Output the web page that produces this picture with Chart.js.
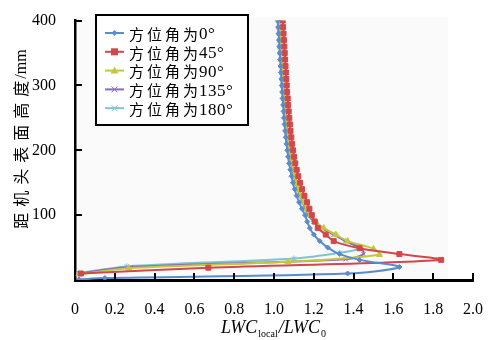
<html>
<head>
  <meta charset="utf-8">
  <title>LWC profile</title>
  <script src="https://cdn.jsdelivr.net/npm/chart.js@4.4.1/dist/chart.umd.min.js"></script>
  <style>
    body { margin: 0; background: #fff; }
  </style>
</head>
<body>
  <canvas id="chart" width="495" height="340"></canvas>

  <script>
    // heights above surface (mm) shared by the upper part of every curve
    const heightsUp = [100, 110, 120, 130, 140, 150, 160, 170, 180, 190, 200, 210, 220, 230, 240, 250,
      260, 270, 280, 290, 300, 310, 320, 330, 340, 350, 360, 370, 380, 390, 400];

    const xTicks = [0, 0.2, 0.4, 0.6, 0.8, 1.0, 1.2, 1.4, 1.6, 1.8, 2.0];
    const yTicks = [0, 100, 200, 300, 400];
    const labels = ['方位角为0°', '方位角为45°', '方位角为90°', '方位角为135°', '方位角为180°'];

    // 0 deg
    const blueLowH = [1, 3, 10, 20, 31, 40, 50, 60, 70, 80, 90];
    const blueLowX = [0.02, 0.15, 1.37, 1.63, 1.43, 1.33, 1.27, 1.23, 1.20, 1.18, 1.167];
    const blueUpX = [1.156, 1.140, 1.126, 1.114, 1.104, 1.095, 1.088, 1.082, 1.076, 1.071, 1.067, 1.063, 1.059, 1.056, 1.053, 1.050,
      1.048, 1.046, 1.043, 1.041, 1.039, 1.037, 1.035, 1.033, 1.031, 1.029, 1.027, 1.025, 1.023, 1.021, 1.019];

    // 45 deg
    const redLowH = [10, 19, 31, 40, 49, 60, 70, 80, 90];
    const redLowX = [0.03, 0.67, 1.84, 1.63, 1.43, 1.30, 1.26, 1.22, 1.205];
    const redUpX = [1.190, 1.178, 1.166, 1.153, 1.141, 1.131, 1.122, 1.114, 1.107, 1.101, 1.096, 1.091, 1.087, 1.083, 1.080, 1.077,
      1.074, 1.071, 1.069, 1.066, 1.064, 1.062, 1.060, 1.058, 1.056, 1.054, 1.052, 1.050, 1.048, 1.046, 1.044];

    // 90 deg
    const yellowLowH = [9, 18, 28, 39, 48, 60, 70, 80, 90];
    const yellowLowX = [0.02, 0.27, 1.07, 1.53, 1.50, 1.37, 1.31, 1.25, 1.21];
    const yellowUpX = [1.180, 1.163, 1.148, 1.134, 1.122, 1.112, 1.103, 1.096, 1.089, 1.084, 1.079, 1.074, 1.070, 1.066, 1.063, 1.060,
      1.057, 1.054, 1.051, 1.049, 1.046, 1.044, 1.041, 1.039, 1.037, 1.035, 1.033, 1.031, 1.029, 1.027, 1.025];

    // 135 deg
    const purpleLowH = [10, 20, 32, 40, 48, 60, 70, 80, 90];
    const purpleLowX = [0.02, 0.28, 1.36, 1.45, 1.44, 1.36, 1.30, 1.24, 1.20];
    const purpleUpX = [1.176, 1.160, 1.146, 1.132, 1.120, 1.110, 1.101, 1.094, 1.088, 1.082, 1.077, 1.073, 1.069, 1.065, 1.062, 1.059,
      1.056, 1.053, 1.050, 1.048, 1.045, 1.043, 1.040, 1.038, 1.036, 1.034, 1.032, 1.030, 1.028, 1.026, 1.024];

    // 180 deg
    const cyanLowH = [11, 21, 33, 42, 49, 60, 70, 80, 90];
    const cyanLowX = [0.02, 0.26, 1.10, 1.33, 1.43, 1.36, 1.31, 1.24, 1.20];
    const cyanUpX = [1.172, 1.157, 1.143, 1.130, 1.118, 1.108, 1.099, 1.092, 1.086, 1.081, 1.076, 1.071, 1.067, 1.063, 1.060, 1.057,
      1.054, 1.051, 1.049, 1.046, 1.044, 1.041, 1.039, 1.037, 1.035, 1.033, 1.031, 1.029, 1.027, 1.025, 1.023];

    const colors = {
      blue: '#5a8bcc',
      red: '#d2474a',
      yellow: '#c2c83e',
      purple: '#8a6cb8',
      cyan: '#7fc3d6',
    };

    const serif = '"Liberation Serif", "Noto Sans CJK SC", serif';

    function points(lowH, lowX, upX) {
      const pts = lowH.map((h, i) => ({ x: lowX[i], y: h }));
      heightsUp.forEach((h, i) => pts.push({ x: upX[i], y: h }));
      return pts;
    }

    function series(label, color, data, style, radius) {
      return {
        label,
        data,
        showLine: true,
        tension: 0.3,
        borderColor: color,
        backgroundColor: color,
        borderWidth: 2,
        pointStyle: style,
        pointRadius: radius,
        pointBorderWidth: 1,
        pointBorderColor: color,
        pointBackgroundColor: color,
      };
    }

    const datasets = [
      series(labels[0], colors.blue, points(blueLowH, blueLowX, blueUpX), 'rectRot', 2.5),
      series(labels[1], colors.red, points(redLowH, redLowX, redUpX), 'rect', 3.5),
      series(labels[2], colors.yellow, points(yellowLowH, yellowLowX, yellowUpX), 'triangle', 3.5),
      series(labels[3], colors.purple, points(purpleLowH, purpleLowX, purpleUpX), 'crossRot', 3),
      series(labels[4], colors.cyan, points(cyanLowH, cyanLowX, cyanUpX), 'star', 3),
    ];

    function drawMarker(ctx, style, x, y, color) {
      ctx.save();
      ctx.fillStyle = color;
      ctx.strokeStyle = color;
      ctx.lineWidth = 1;
      ctx.beginPath();
      if (style === 'rectRot') {
        ctx.moveTo(x, y - 3); ctx.lineTo(x + 3, y); ctx.lineTo(x, y + 3); ctx.lineTo(x - 3, y);
        ctx.closePath(); ctx.fill();
      } else if (style === 'rect') {
        ctx.rect(x - 3.5, y - 3.5, 7, 7); ctx.fill();
      } else if (style === 'triangle') {
        ctx.moveTo(x, y - 4); ctx.lineTo(x + 4, y + 3); ctx.lineTo(x - 4, y + 3);
        ctx.closePath(); ctx.fill();
      } else if (style === 'crossRot') {
        ctx.moveTo(x - 3, y - 3); ctx.lineTo(x + 3, y + 3);
        ctx.moveTo(x + 3, y - 3); ctx.lineTo(x - 3, y + 3); ctx.stroke();
      } else {
        ctx.moveTo(x - 3, y - 3); ctx.lineTo(x + 3, y + 3);
        ctx.moveTo(x + 3, y - 3); ctx.lineTo(x - 3, y + 3);
        ctx.moveTo(x - 4, y); ctx.lineTo(x + 4, y); ctx.stroke();
      }
      ctx.restore();
    }

    const decor = {
      id: 'decor',
      beforeDraw(chart) {
        const { ctx, chartArea } = chart;
        ctx.save();
        ctx.fillStyle = '#fafafa';
        ctx.fillRect(chartArea.left, chartArea.top - 4, 448 - chartArea.left, chartArea.bottom - chartArea.top + 4);
        ctx.restore();
      },
      afterDraw(chart) {
        const { ctx, chartArea, scales } = chart;
        ctx.save();

        // inward tick marks
        ctx.strokeStyle = '#000';
        ctx.lineWidth = 2;
        ctx.beginPath();
        xTicks.slice(1).forEach(v => {
          const px = Math.round(scales.x.getPixelForValue(v));
          ctx.moveTo(px, chartArea.bottom);
          ctx.lineTo(px, chartArea.bottom - 7);
        });
        yTicks.slice(1).forEach(v => {
          const py = Math.round(scales.y.getPixelForValue(v));
          ctx.moveTo(chartArea.left, py);
          ctx.lineTo(chartArea.left + 7, py);
        });
        ctx.stroke();

        // legend box
        const bx = 96, by = 15, bw = 152, bh = 110;
        ctx.fillStyle = '#fff';
        ctx.fillRect(bx, by, bw, bh);
        ctx.lineWidth = 2;
        ctx.strokeRect(bx, by, bw, bh);
        ctx.textBaseline = 'middle';
        ctx.textAlign = 'left';
        chart.data.datasets.forEach((ds, i) => {
          const ry = 33 + i * 18.8;
          ctx.strokeStyle = ds.borderColor;
          ctx.lineWidth = 2;
          ctx.beginPath();
          ctx.moveTo(105, ry);
          ctx.lineTo(124, ry);
          ctx.stroke();
          drawMarker(ctx, ds.pointStyle, 114.5, ry, ds.borderColor);
          ctx.fillStyle = '#000';
          const cjk = ds.label.slice(0, 4);
          const num = ds.label.slice(4);
          ctx.font = '15px "Noto Sans CJK SC", sans-serif';
          ctx.letterSpacing = '3px';
          ctx.fillText(cjk, 129, ry + 1);
          const w = ctx.measureText(cjk).width;
          ctx.font = '17px ' + serif;
          ctx.letterSpacing = '0.5px';
          ctx.fillText(num, 129 + w - 2, ry + 2);
        });

        // x axis title: LWC_local / LWC_0
        ctx.letterSpacing = '0px';
        ctx.textBaseline = 'alphabetic';
        const big = 'italic 18px ' + serif;
        const small = '10px ' + serif;
        const parts = [['LWC', big, 0], ['local', small, 4], ['/LWC', big, 0], ['0', small, 4]];
        let total = 0;
        parts.forEach(p => { ctx.font = p[1]; total += ctx.measureText(p[0]).width + 1; });
        let tx = (chartArea.left + chartArea.right) / 2 - total / 2;
        ctx.fillStyle = '#000';
        parts.forEach(p => {
          ctx.font = p[1];
          ctx.fillText(p[0], tx, 333 + p[2]);
          tx += ctx.measureText(p[0]).width + 1;
        });

        // y axis title
        ctx.translate(21, 137);
        ctx.rotate(-Math.PI / 2);
        ctx.textBaseline = 'middle';
        ctx.textAlign = 'left';
        ctx.font = '16px "Noto Sans CJK SC", sans-serif';
        ctx.letterSpacing = '6px';
        const head = '距机头表面高度';
        const headW = ctx.measureText(head).width;
        ctx.letterSpacing = '0px';
        ctx.font = '16px ' + serif;
        const tail = '/mm';
        const tailW = ctx.measureText(tail).width;
        const start = -(headW + tailW) / 2;
        ctx.font = '16px "Noto Sans CJK SC", sans-serif';
        ctx.letterSpacing = '6px';
        ctx.fillText(head, start, 0);
        ctx.letterSpacing = '0px';
        ctx.font = '16px ' + serif;
        ctx.fillText(tail, start + headW - 4, 1);
        ctx.restore();
      },
    };

    window.chartObj = new Chart(document.querySelector('canvas#chart'), {
      type: 'scatter',
      data: { datasets },
      options: {
        responsive: false,
        animation: false,
        devicePixelRatio: 1,
        layout: { padding: { top: 12, right: 22, left: 0, bottom: 0 } },
        plugins: {
          legend: { display: false },
          tooltip: { enabled: false },
        },
        scales: {
          x: {
            type: 'linear',
            min: 0,
            max: 2,
            afterFit: scale => { scale.height = 60; },
            afterBuildTicks: scale => { scale.ticks = xTicks.map(v => ({ value: v })); },
            ticks: {
              padding: 12,
              color: '#000',
              font: { family: serif, size: 16 },
              maxRotation: 0,
              autoSkip: false,
              callback: v => (v === 0 ? '0' : v.toFixed(1)),
            },
            grid: { display: false },
            border: { display: true, color: '#000', width: 3 },
          },
          y: {
            type: 'linear',
            min: 0,
            max: 400,
            afterFit: scale => { scale.width = 75; },
            afterBuildTicks: scale => { scale.ticks = yTicks.map(v => ({ value: v })); },
            ticks: {
              padding: 11,
              color: '#000',
              font: { family: serif, size: 16 },
              autoSkip: false,
              callback: v => (v === 0 ? '' : String(v)),
            },
            grid: { display: false },
            border: { display: true, color: '#000', width: 2.5 },
          },
        },
      },
      plugins: [decor],
    });
  </script>
</body>
</html>
